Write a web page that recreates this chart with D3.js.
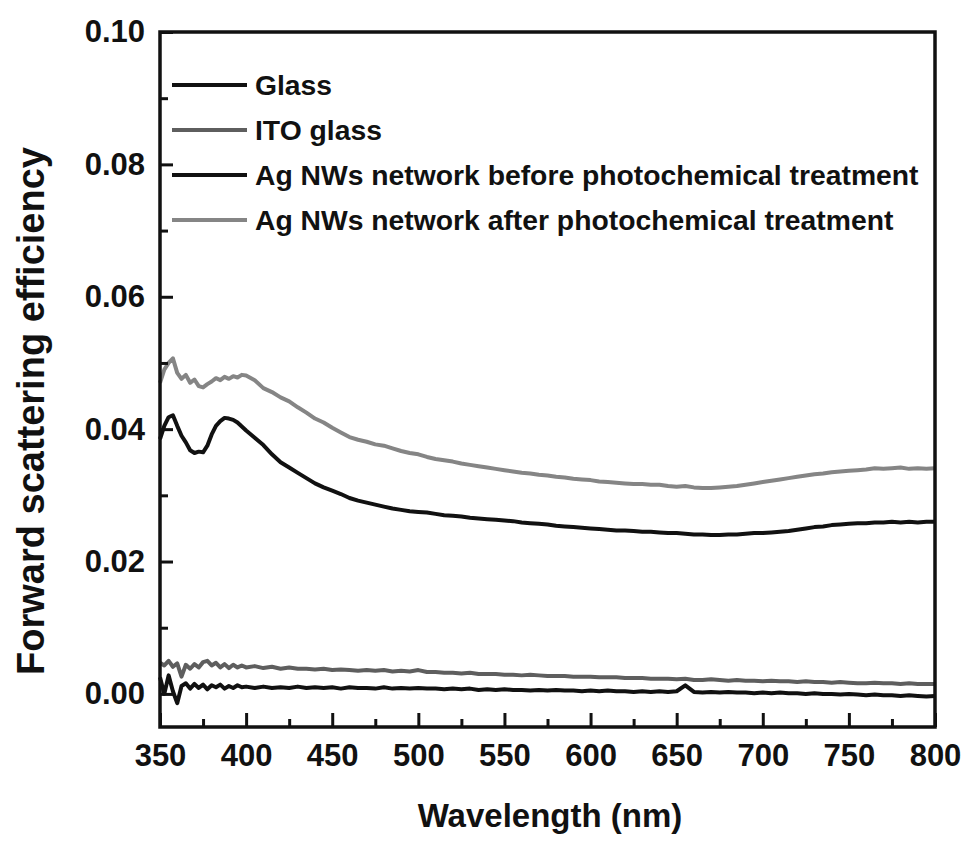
<!DOCTYPE html>
<html>
<head>
<meta charset="utf-8">
<script src="https://cdn.jsdelivr.net/npm/d3@7"></script>
<style>
	body { margin: 0; background: #fff; }
	svg { display: block; }
</style>
</head>
<body>
<script>
// wavelength grid: 2.5 nm up to 400 nm, 5 nm afterwards
const wavelengths = d3.range(350, 400, 2.5).concat(d3.range(400, 800.1, 5));

const glass = [
	0.0025, 0.0000, 0.0028, 0.0004, -0.0014, 0.0012, 0.0016, 0.0008, 0.0015, 0.0009,
	0.0014, 0.0007, 0.0013, 0.0010, 0.0014, 0.0008, 0.0012, 0.0009, 0.0013, 0.0010,
	0.0011, 0.0009, 0.0011, 0.0009, 0.0010, 0.0009, 0.0011, 0.0009, 0.0010, 0.0009,
	0.0010, 0.0008, 0.0010, 0.0009, 0.0009, 0.0008, 0.0010, 0.0008, 0.0009, 0.0008,
	0.0009, 0.0008, 0.0008, 0.0007, 0.0008, 0.0007, 0.0008, 0.0006, 0.0007, 0.0006,
	0.0007, 0.0006, 0.0006, 0.0005, 0.0006, 0.0005, 0.0006, 0.0005, 0.0005, 0.0004,
	0.0005, 0.0004, 0.0005, 0.0004, 0.0004, 0.0003, 0.0004, 0.0003, 0.0004, 0.0003,
	0.0004, 0.0013, 0.0003, 0.0002, 0.0003, 0.0002, 0.0003, 0.0002, 0.0002, 0.0001,
	0.0002, 0.0001, 0.0002, 0.0001, 0.0001, 0.0000, 0.0001, 0.0000, 0.0000, -0.0001,
	0.0000, -0.0001, -0.0002, -0.0001, -0.0002, -0.0002, -0.0003, -0.0002, -0.0003, -0.0004,
	-0.0003
];

const itoGlass = [
	0.0047, 0.0043, 0.0050, 0.0041, 0.0046, 0.0026, 0.0044, 0.0038, 0.0045, 0.0040,
	0.0048, 0.0050, 0.0043, 0.0047, 0.0040, 0.0045, 0.0039, 0.0044, 0.0040, 0.0043,
	0.0040, 0.0042, 0.0039, 0.0041, 0.0038, 0.0040, 0.0038, 0.0038, 0.0037, 0.0038,
	0.0036, 0.0037, 0.0036, 0.0035, 0.0036, 0.0035, 0.0036, 0.0034, 0.0035, 0.0034,
	0.0036, 0.0033, 0.0033, 0.0032, 0.0032, 0.0031, 0.0032, 0.0030, 0.0030, 0.0030,
	0.0029, 0.0029, 0.0028, 0.0029, 0.0028, 0.0027, 0.0027, 0.0027, 0.0026, 0.0026,
	0.0026, 0.0025, 0.0025, 0.0025, 0.0024, 0.0024, 0.0024, 0.0023, 0.0023, 0.0023,
	0.0022, 0.0023, 0.0021, 0.0021, 0.0022, 0.0021, 0.0020, 0.0021, 0.0020, 0.0020,
	0.0019, 0.0020, 0.0019, 0.0019, 0.0018, 0.0019, 0.0018, 0.0018, 0.0017, 0.0018,
	0.0017, 0.0016, 0.0016, 0.0017, 0.0016, 0.0016, 0.0015, 0.0016, 0.0015, 0.0015,
	0.0015
];

const agBefore = [
	0.0385, 0.0405, 0.0418, 0.0421, 0.0405, 0.0390, 0.0380, 0.0368, 0.0364, 0.0366,
	0.0365, 0.0375, 0.0392, 0.0405, 0.0412, 0.0417, 0.0416, 0.0414, 0.0410, 0.0404,
	0.0398, 0.0387, 0.0376, 0.0362, 0.0350, 0.0342, 0.0334, 0.0326, 0.0318, 0.0312,
	0.0307, 0.0302, 0.0296, 0.0292, 0.0289, 0.0286, 0.0283, 0.0280, 0.0278, 0.0276,
	0.0275, 0.0274, 0.0272, 0.0270, 0.0269, 0.0268, 0.0266, 0.0265, 0.0264, 0.0263,
	0.0262, 0.0261, 0.0259, 0.0258, 0.0257, 0.0256, 0.0254, 0.0253, 0.0252, 0.0251,
	0.0250, 0.0249, 0.0248, 0.0247, 0.0247, 0.0246, 0.0245, 0.0245, 0.0244, 0.0243,
	0.0243, 0.0242, 0.0241, 0.0241, 0.0240, 0.0240, 0.0241, 0.0241, 0.0242, 0.0243,
	0.0243, 0.0244, 0.0245, 0.0246, 0.0248, 0.0250, 0.0252, 0.0253, 0.0255, 0.0256,
	0.0257, 0.0258, 0.0258, 0.0259, 0.0259, 0.0260, 0.0259, 0.0260, 0.0259, 0.0260,
	0.0260
];

const agAfter = [
	0.0470, 0.0490, 0.0500, 0.0507, 0.0485, 0.0476, 0.0482, 0.0470, 0.0475, 0.0465,
	0.0463, 0.0468, 0.0472, 0.0477, 0.0474, 0.0479, 0.0476, 0.0480, 0.0478, 0.0482,
	0.0481, 0.0474, 0.0462, 0.0456, 0.0448, 0.0442, 0.0433, 0.0425, 0.0416, 0.0410,
	0.0402, 0.0395, 0.0388, 0.0384, 0.0381, 0.0377, 0.0375, 0.0371, 0.0367, 0.0364,
	0.0362, 0.0358, 0.0355, 0.0353, 0.0351, 0.0348, 0.0346, 0.0344, 0.0342, 0.0340,
	0.0338, 0.0336, 0.0334, 0.0333, 0.0331, 0.0330, 0.0328, 0.0327, 0.0325, 0.0324,
	0.0323, 0.0321, 0.0320, 0.0319, 0.0318, 0.0317, 0.0317, 0.0316, 0.0316, 0.0314,
	0.0313, 0.0314, 0.0312, 0.0311, 0.0311, 0.0312, 0.0313, 0.0314, 0.0316, 0.0318,
	0.0320, 0.0322, 0.0324, 0.0326, 0.0328, 0.0330, 0.0332, 0.0333, 0.0335, 0.0336,
	0.0337, 0.0338, 0.0339, 0.0341, 0.0340, 0.0341, 0.0342, 0.0340, 0.0341, 0.0340,
	0.0341
];

const seriesNames = [
	"Glass",
	"ITO glass",
	"Ag NWs network before photochemical treatment",
	"Ag NWs network after photochemical treatment"
];
const seriesValues = [glass, itoGlass, agBefore, agAfter];
const seriesColors = ["#111", "#5e5e5e", "#111", "#858585"];

const xTicks = [350, 400, 450, 500, 550, 600, 650, 700, 750, 800];
const xMinorTicks = [375, 425, 475, 525, 575, 625, 675, 725, 775];
const yTicks = [0.00, 0.02, 0.04, 0.06, 0.08, 0.10];
const yMinorTicks = [0.01, 0.03, 0.05, 0.07, 0.09];

const width = 967, height = 846;
const margin = {top: 32, right: 32, bottom: 119, left: 160};
const font = "'Liberation Sans', Arial, sans-serif";

const x = d3.scaleLinear()
	.domain([350, 800])
	.range([margin.left, width - margin.right]);

const y = d3.scaleLinear()
	.domain([-0.005, 0.10])
	.range([height - margin.bottom, margin.top]);

const svg = d3.select("body").append("svg")
	.attr("width", width)
	.attr("height", height);

// curves
const line = d3.line()
	.x(d => x(d[0]))
	.y(d => y(d[1]));

svg.append("g")
		.attr("fill", "none")
		.attr("stroke-width", 4)
		.attr("stroke-linejoin", "round")
	.selectAll("path")
	.data(seriesValues.map((vals, i) => ({i, pts: wavelengths.map((w, j) => [w, vals[j]])})))
	.join("path")
		.attr("stroke", d => seriesColors[d.i])
		.attr("d", d => line(d.pts));

// axes, ticks pointing inward
const xAxis = g => g
	.attr("transform", `translate(0,${height - margin.bottom})`)
	.call(d3.axisBottom(x).tickValues(xTicks).tickSize(-14).tickPadding(17).tickFormat(d3.format("d")))
	.call(g => g.select(".domain").remove());

const xMinor = g => g
	.attr("transform", `translate(0,${height - margin.bottom})`)
	.call(d3.axisBottom(x).tickValues(xMinorTicks).tickSize(-8).tickFormat(""))
	.call(g => g.select(".domain").remove());

const yAxis = g => g
	.attr("transform", `translate(${margin.left},0)`)
	.call(d3.axisLeft(y).tickValues(yTicks).tickSize(-13).tickPadding(15).tickFormat(d3.format(".2f")))
	.call(g => g.select(".domain").remove());

const yMinor = g => g
	.attr("transform", `translate(${margin.left},0)`)
	.call(d3.axisLeft(y).tickValues(yMinorTicks).tickSize(-8).tickFormat(""))
	.call(g => g.select(".domain").remove());

[xAxis, xMinor, yAxis, yMinor].forEach(a => {
	svg.append("g")
		.call(a)
		.call(g => g.selectAll(".tick line").attr("stroke", "#111").attr("stroke-width", 3))
		.call(g => g.selectAll(".tick text")
			.attr("fill", "#111")
			.attr("font-family", font)
			.attr("font-weight", "bold")
			.attr("font-size", 31));
});

// frame
svg.append("rect")
	.attr("x", margin.left)
	.attr("y", margin.top)
	.attr("width", width - margin.left - margin.right)
	.attr("height", height - margin.top - margin.bottom)
	.attr("fill", "none")
	.attr("stroke", "#111")
	.attr("stroke-width", 3.5);

// axis titles
svg.append("text")
	.attr("x", 550)
	.attr("y", 827)
	.attr("text-anchor", "middle")
	.attr("font-family", font)
	.attr("font-weight", "bold")
	.attr("font-size", 33)
	.attr("fill", "#111")
	.text("Wavelength (nm)");

svg.append("text")
	.attr("transform", "translate(44,411) rotate(-90)")
	.attr("text-anchor", "middle")
	.attr("font-family", font)
	.attr("font-weight", "bold")
	.attr("font-size", 38)
	.attr("fill", "#111")
	.text("Forward scattering efficiency");

// legend
const legend = svg.append("g")
		.attr("font-family", font)
		.attr("font-weight", "bold")
		.attr("font-size", 28.3)
		.attr("fill", "#111")
	.selectAll("g")
	.data(seriesNames)
	.join("g")
		.attr("transform", (d, i) => `translate(172,${85 + i * 45})`);

legend.append("line")
	.attr("x1", 0)
	.attr("x2", 75)
	.attr("stroke", (d, i) => seriesColors[i])
	.attr("stroke-width", 4);

legend.append("text")
	.attr("x", 83)
	.attr("dy", "0.35em")
	.text(d => d);
</script>
</body>
</html>
